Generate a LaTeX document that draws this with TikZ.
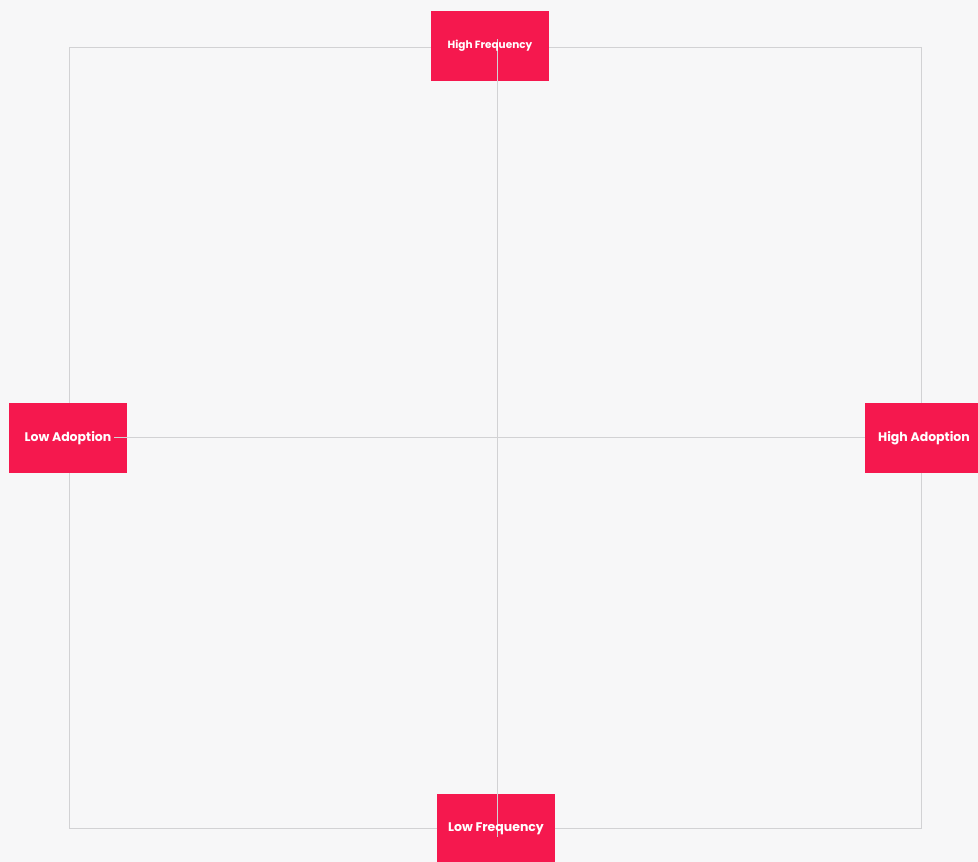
\documentclass[tikz,border=0pt]{standalone}
\usepackage{fontspec}
\setmainfont{Poppins}
\definecolor{bgc}{RGB}{247,247,248}
\definecolor{boxc}{RGB}{245,24,78}
\definecolor{linec}{RGB}{210,210,212}
\pgfdeclarelayer{background}
\pgfdeclarelayer{mid}
\pgfsetlayers{background,mid,main}
\begin{document}
\begin{tikzpicture}[x=1pt,y=-1pt,
  lbl/.style={text=white,font=\bfseries\fontsize{12.5}{14}\selectfont,inner sep=0pt,minimum width=118pt,minimum height=70pt,anchor=center},
  lblsmall/.style={lbl,font=\bfseries\fontsize{10.5}{12}\selectfont},
  boxfill/.style={fill=boxc},
  gridline/.style={draw=linec,line width=1pt}]
\begin{pgfonlayer}{background}
\fill[bgc] (0,0) rectangle (978,862);
\end{pgfonlayer}
\useasboundingbox (0,0) rectangle (978,862);
% text nodes
\node[lblsmall] (t) at (490,46) {High Frequency};
\node[lbl] (l) at (68,438) {Low Adoption};
\node[lbl] (r) at (924,438) {High Adoption};
\node[lbl] (b) at (496,829) {Low Frequency};
\coordinate (c) at (497,437);
\begin{pgfonlayer}{background}
\draw[gridline] (69,47) rectangle (921,828);
\foreach \n in {t,l,r,b} {\fill[boxfill] (\n.south west) rectangle (\n.north east);}
\end{pgfonlayer}
\begin{pgfonlayer}{mid}
\draw[gridline] ([yshift=7pt]c |- t.center) -- ([yshift=-8pt]c |- b.center);
\draw[gridline] ([xshift=46pt]l.center |- c) -- (r.west |- c);
\end{pgfonlayer}
\end{tikzpicture}
\end{document}
